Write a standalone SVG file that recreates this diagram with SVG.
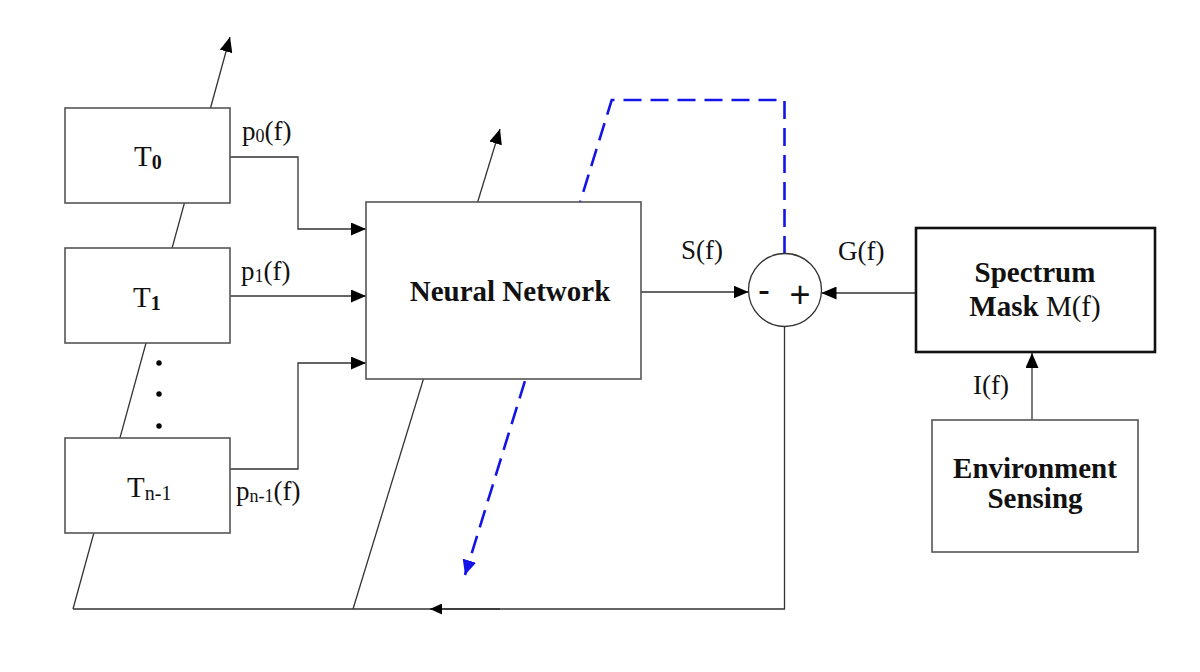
<svg xmlns="http://www.w3.org/2000/svg" width="1200" height="672" viewBox="0 0 1200 672">
<style>
.ln{fill:none;stroke:#333;stroke-width:1.3}
.box{fill:#fff;stroke:#555;stroke-width:1.6}
.tbox{fill:#fff;stroke:#111;stroke-width:2.6}
.dash{fill:none;stroke:#1414e6;stroke-width:2.6;stroke-dasharray:18 9}
text{font-family:"Liberation Serif","Times New Roman",serif;fill:#111}
.lbl{font-size:27px}
.big{font-size:29px}
.b{font-weight:bold}
.sign{font-family:"Liberation Sans",Arial,sans-serif;font-size:36px}
</style>
<defs>
<marker id="ah" viewBox="0 0 15 13" refX="15" refY="6.5" markerWidth="15" markerHeight="13" markerUnits="userSpaceOnUse" orient="auto"><path d="M0,0 L15,6.5 L0,13 z" fill="#000"/></marker>
<marker id="ahs" viewBox="0 0 12 11" refX="12" refY="5.5" markerWidth="12" markerHeight="11" markerUnits="userSpaceOnUse" orient="auto"><path d="M0,0 L12,5.5 L0,11 z" fill="#000"/></marker>
<marker id="ahb" viewBox="0 0 15 14" refX="15" refY="7" markerWidth="15" markerHeight="14" markerUnits="userSpaceOnUse" orient="auto"><path d="M0,0 L15,7 L0,14 z" fill="#1414e6"/></marker>
</defs>
<g id="connectors">
<line class="ln" x1="73" y1="609" x2="230" y2="37" marker-end="url(#ah)"/>
<line class="ln" x1="353" y1="609" x2="500" y2="129" marker-end="url(#ah)"/>
<path class="ln" d="M784.5,326 L784.5,609 L73,609"/>
<line class="ln" x1="500" y1="609" x2="430" y2="609" marker-end="url(#ahs)"/>
<path class="dash" d="M784.5,254 L784.5,100 L611.7,100 L465,575" marker-end="url(#ahb)"/>
<path class="ln" d="M230,157 L298,157 L298,229 L366,229" marker-end="url(#ah)"/>
<path class="ln" d="M230,296 L366,296" marker-end="url(#ah)"/>
<path class="ln" d="M230,469 L298,469 L298,363 L366,363" marker-end="url(#ah)"/>
<path class="ln" d="M641,292 L748.5,292" marker-end="url(#ah)"/>
<path class="ln" d="M916,293 L821.5,293" marker-end="url(#ah)"/>
<path class="ln" d="M1032,420 L1032,353" marker-end="url(#ah)"/>
</g>
<g id="T0"><rect class="box" x="65" y="108" width="165" height="95"/><text class="big" x="134" y="166">T<tspan class="b" font-size="20" dy="3">0</tspan></text></g>
<g id="T1"><rect class="box" x="65" y="248" width="165" height="95"/><text class="big" x="133" y="307">T<tspan class="b" font-size="20" dy="3">1</tspan></text></g>
<g id="dots"><circle cx="159" cy="363" r="2.7" fill="#000"/><circle cx="159" cy="394" r="2.7" fill="#000"/><circle cx="159" cy="426" r="2.7" fill="#000"/></g>
<g id="Tn1"><rect class="box" x="65" y="438" width="165" height="95"/><text class="big" x="127" y="497">T<tspan font-size="20" dy="3">n-1</tspan></text></g>
<g id="labels">
<text class="lbl" x="242" y="140">p<tspan font-size="18" dy="2">0</tspan><tspan dy="-2">(f)</tspan></text>
<text class="lbl" x="241" y="280">p<tspan font-size="18" dy="2">1</tspan><tspan dy="-2">(f)</tspan></text>
<text class="lbl" x="236" y="500">p<tspan font-size="18" dy="2">n-1</tspan><tspan dy="-2">(f)</tspan></text>
<text class="lbl" x="681" y="259">S(f)</text>
<text class="lbl" x="838" y="260">G(f)</text>
<text class="lbl" x="973" y="394">I(f)</text>
</g>
<g id="NN"><rect class="box" x="366" y="202" width="275" height="177"/><text class="big b" x="510" y="301" text-anchor="middle">Neural Network</text></g>
<g id="sum"><circle cx="785" cy="290" r="36.5" fill="#fff" stroke="#333" stroke-width="1.3"/><text class="sign" x="764" y="302" text-anchor="middle">-</text><text class="sign" x="800" y="307" text-anchor="middle">+</text></g>
<g id="mask"><rect class="tbox" x="916" y="228" width="239" height="124"/><text class="big b" x="1035" y="282" text-anchor="middle">Spectrum</text><text class="big" x="1035" y="316" text-anchor="middle"><tspan class="b">Mask</tspan> M(f)</text></g>
<g id="env"><rect class="box" x="932" y="420" width="206" height="132"/><text class="big b" x="1035" y="478" text-anchor="middle">Environment</text><text class="big b" x="1035" y="508" text-anchor="middle">Sensing</text></g>
</svg>
